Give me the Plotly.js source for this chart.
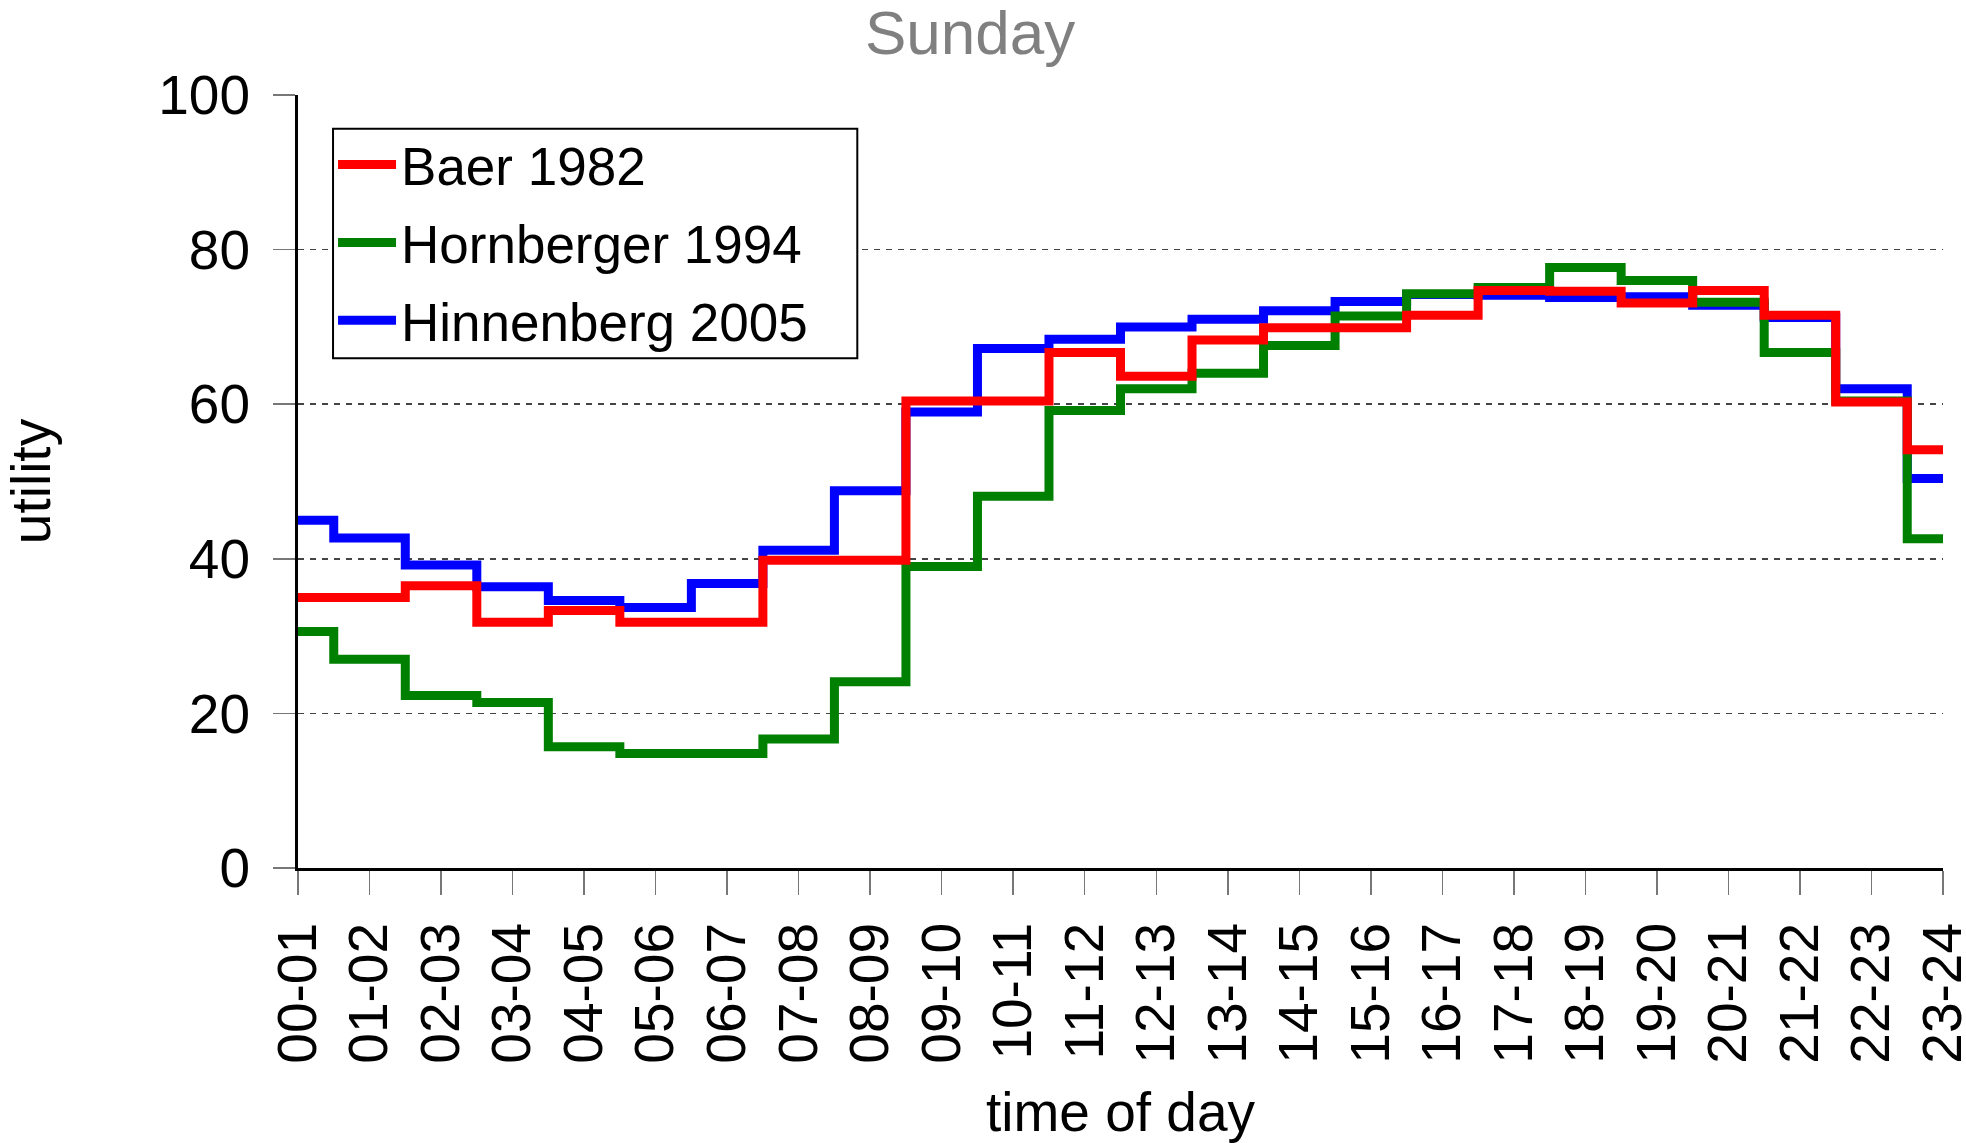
<!DOCTYPE html>
<html>
<head>
<meta charset="utf-8">
<script src="https://cdn.plot.ly/plotly-3.0.1.min.js"></script>
<style>html,body{margin:0;padding:0;background:#fff;}#chart{width:1966px;height:1143px;}</style>
</head>
<body>
<div id="chart"></div>
<script>
const categories = ["00-01","01-02","02-03","03-04","04-05","05-06","06-07","07-08","08-09","09-10","10-11","11-12","12-13","13-14","14-15","15-16","16-17","17-18","18-19","19-20","20-21","21-22","22-23","23-24"];
const baer1982 = [35.0, 35.0, 36.5, 31.8, 33.3, 31.8, 31.8, 39.8, 39.8, 60.4, 60.4, 66.7, 63.6, 68.3, 69.9, 69.9, 71.5, 74.7, 74.6, 73.1, 74.7, 71.5, 60.3, 54.1];
const hornberger1994 = [30.6, 27.0, 22.3, 21.4, 15.7, 14.8, 14.8, 16.7, 24.1, 39.0, 48.1, 59.2, 62.0, 64.0, 67.6, 71.4, 74.3, 75.1, 77.7, 76.0, 73.2, 66.7, 60.4, 42.6];
const hinnenberg2005 = [45.0, 42.7, 39.2, 36.4, 34.6, 33.7, 36.8, 41.1, 48.8, 59.0, 67.2, 68.4, 70.0, 71.0, 72.1, 73.3, 74.2, 74.1, 73.8, 73.9, 72.8, 71.2, 62.0, 50.4];
const yTicks = [0, 20, 40, 60, 80, 100];

const FONT = "Liberation Sans, Arial, Helvetica, sans-serif";

function mk(name, y, color, group, rank) {
  return {
    type: "scatter", mode: "lines", name: name, x: categories, y: y,
    legendgroup: group, legendrank: rank,
    line: {color: color, width: 9, shape: "hvh"}
  };
}

const data = [
  mk("Hinnenberg 2005", hinnenberg2005, "#0000ff", "c", 3),
  mk("Hornberger 1994", hornberger1994, "#008000", "b", 2),
  mk("Baer 1982", baer1982, "#ff0000", "a", 1)
];

const layout = {
  width: 1966, height: 1143,
  margin: {l: 298, r: 23, t: 95, b: 275},
  paper_bgcolor: "#ffffff", plot_bgcolor: "#ffffff",
  font: {family: FONT, size: 55, color: "#000"},
  title: {text: "Sunday", font: {family: FONT, size: 62, color: "#808080"},
          xref: "container", x: 0.4934, xanchor: "center",
          yref: "container", y: 0.972, yanchor: "middle"},
  showlegend: true,
  legend: {x: 0.0213, y: 0.963, xanchor: "left", yanchor: "top",
           bgcolor: "rgba(0,0,0,0)", borderwidth: 0,
           font: {family: FONT, size: 53, color: "#000"},
           traceorder: "grouped", tracegroupgap: 6, itemwidth: 58},
  shapes: [{
    type: "rect", xref: "paper", yref: "paper", layer: "above",
    x0: 0.0213, x1: 0.340, y0: 0.6594, y1: 0.9564,
    fillcolor: "#ffffff", line: {color: "#000", width: 2}
  }],
  xaxis: {
    type: "category", range: [0, 23],
    showgrid: false, zeroline: false,
    showline: true, linecolor: "#000", linewidth: 3,
    ticks: "outside", ticklen: 24, tickwidth: 1.5, tickcolor: "#777",
    tickangle: -90, tickfont: {family: FONT, size: 55, color: "#000"},
    ticklabelstandoff: 6,
    title: {text: "time of day", font: {family: FONT, size: 55, color: "#000"}, standoff: 40}
  },
  yaxis: {
    range: [0, 100], tickvals: yTicks, ticktext: yTicks.map(String),
    showgrid: true, gridcolor: "#444", gridwidth: 1.5, griddash: "6px,6px",
    zeroline: false,
    showline: true, linecolor: "#000", linewidth: 3,
    ticks: "outside", ticklen: 22, tickwidth: 1.5, tickcolor: "#777",
    tickfont: {family: FONT, size: 55, color: "#000"},
    ticklabelstandoff: 12,
    title: {text: "utility", font: {family: FONT, size: 55, color: "#000"}, standoff: 103}
  }
};

Plotly.newPlot("chart", data, layout, {staticPlot: true, displayModeBar: false});
</script>
</body>
</html>
